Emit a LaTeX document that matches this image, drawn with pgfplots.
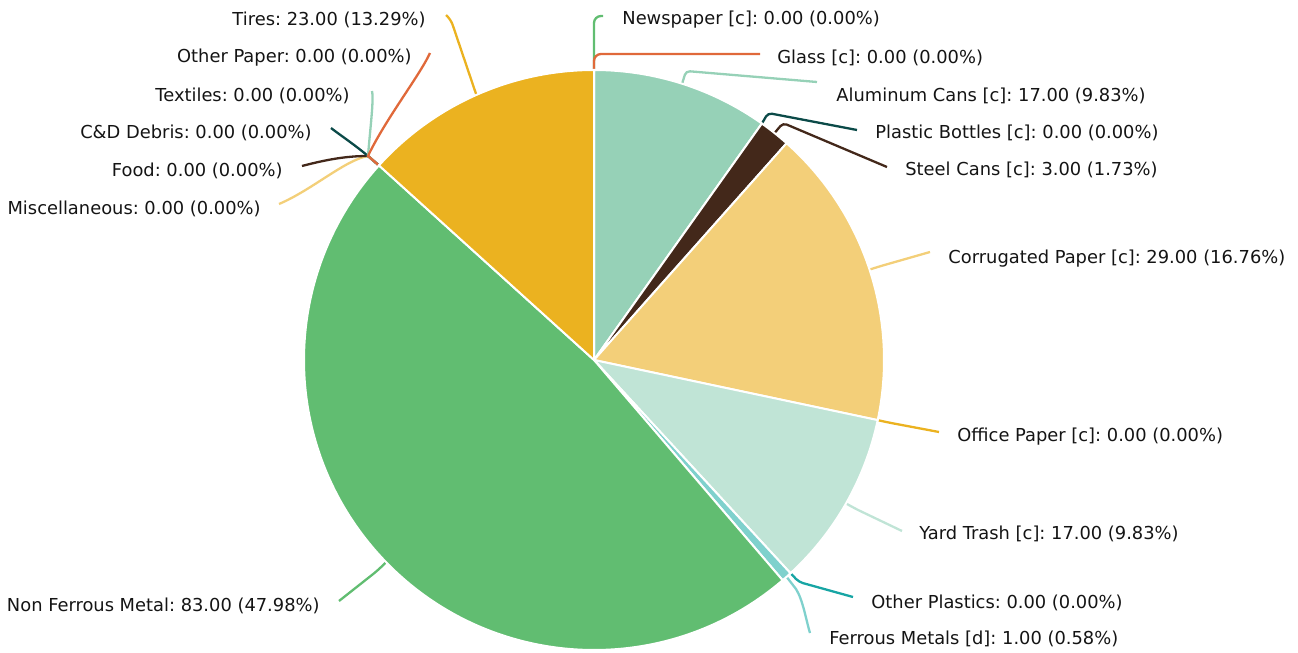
\documentclass[border=0pt]{standalone}
\usepackage{pgfplots}
\pgfplotsset{compat=1.18}
\usepackage{fontspec}
\setmainfont{DejaVu Sans}
\definecolor{cgreen}{HTML}{61BD71}
\definecolor{corange}{HTML}{E0693A}
\definecolor{clteal}{HTML}{96D1B7}
\definecolor{cdteal}{HTML}{0B4A48}
\definecolor{cbrown}{HTML}{43281A}
\definecolor{cyellow}{HTML}{F3CF79}
\definecolor{cgold}{HTML}{EBB220}
\definecolor{cmint}{HTML}{C0E4D6}
\definecolor{cteal}{HTML}{17A5A4}
\definecolor{caqua}{HTML}{7FD1CD}
\definecolor{ctext}{HTML}{141414}
% slice: #1 cumulative start value, #2 value, #3 colour (total 173)
\newcommand{\slice}[3]{%
  \fill[#3, draw=white, line width=1pt] (axis cs:594,360) -- ++({90-#1/173*360}:145pt)
    arc[start angle={90-#1/173*360}, end angle={90-(#1+#2)/173*360}, radius=145pt] -- cycle;}
\newcommand{\lblL}[3]{\node[anchor=west, inner sep=0pt, text=ctext, yshift=-1pt] at (axis cs:#1,#2) {#3};}
\newcommand{\lblR}[3]{\node[anchor=east, inner sep=0pt, text=ctext, yshift=-1pt] at (axis cs:#1,#2) {#3};}
\begin{document}
\frenchspacing
\fontsize{8.93pt}{10.7pt}\selectfont
\begin{tikzpicture}
\begin{axis}[scale only axis, width=649pt, height=326.5pt,
  xmin=0, xmax=1298, ymin=0, ymax=653, y dir=reverse,
  hide axis, clip=false]
% connectors
\begin{scope}[line width=1.15pt, rounded corners=3.5pt]
\draw[cgreen] (axis cs:594,360) ++(90:145pt) -- (axis cs:594,16) -- (axis cs:603,16);
\draw[corange] (axis cs:594,360) ++(90:145pt) -- (axis cs:594,54) -- (axis cs:760,54);
\draw[clteal, rounded corners=2pt] (axis cs:594,360) ++(72.31:145pt) -- (axis cs:686,71) -- (axis cs:817,82);
\draw[cdteal, rounded corners=2pt] (axis cs:594,360) ++(54.62:145pt) -- (axis cs:768,113) -- (axis cs:857,130);
\draw[cbrown, rounded corners=2pt] (axis cs:594,360) ++(51.50:145pt) -- (axis cs:783,123) -- (axis cs:887,167);
\draw[cyellow, rounded corners=2pt] (axis cs:594,360) ++(18.17:145pt) -- (axis cs:881,266) -- (axis cs:930,252);
\draw[cgold, rounded corners=2pt] (axis cs:594,360) ++(-11.97:145pt) -- (axis cs:889,422.6) -- (axis cs:939,432);
\draw[cmint, rounded corners=2pt] (axis cs:594,360) ++(-29.65:145pt) -- (axis cs:856,509) -- (axis cs:902,531);
\draw[cteal, rounded corners=2pt] (axis cs:594,360) ++(-47.34:145pt) -- (axis cs:799,582) -- (axis cs:853,597);
\draw[caqua, sharp corners] (axis cs:594,360) ++(-48.39:145pt) -- (axis cs:796,589) .. controls (axis cs:803,600) and (axis cs:806,620) .. (axis cs:810,633);
\draw[cgreen, rounded corners=2pt] (axis cs:594,360) ++(-135.78:145pt) -- (axis cs:376.6,571.3) -- (axis cs:339,601);
\draw[cyellow, sharp corners] (axis cs:594,360) ++(137.86:145pt) -- (axis cs:368,156) .. controls (axis cs:345,160) and (axis cs:312,190) .. (axis cs:279,204);
\draw[cbrown, sharp corners] (axis cs:594,360) ++(137.86:145pt) -- (axis cs:368,156) .. controls (axis cs:345,156) and (axis cs:325,160) .. (axis cs:302,166);
\draw[cdteal, sharp corners] (axis cs:594,360) ++(137.86:145pt) -- (axis cs:368,156) .. controls (axis cs:355,145) and (axis cs:340,135) .. (axis cs:331,128);
\draw[clteal, sharp corners] (axis cs:594,360) ++(137.86:145pt) -- (axis cs:368,156) .. controls (axis cs:370,130) and (axis cs:374,100) .. (axis cs:372,91);
\draw[corange, sharp corners] (axis cs:594,360) ++(137.86:145pt) -- (axis cs:368,156) .. controls (axis cs:385,120) and (axis cs:420,75) .. (axis cs:430,53);
\draw[cgold, rounded corners=2.5pt] (axis cs:594,360) ++(113.93:145pt) -- (axis cs:451,20) -- (axis cs:446,15);
\end{scope}
% slices (cumulative start, value)
\slice{0}{17}{clteal}
\slice{17}{3}{cbrown}
\slice{20}{29}{cyellow}
\slice{49}{17}{cmint}
\slice{66}{1}{caqua}
\slice{67}{83}{cgreen}
\slice{150}{23}{cgold}
% labels
\lblL{622}{18}{Newspaper [c]: 0.00 (0.00\%)}
\lblL{777}{56}{Glass [c]: 0.00 (0.00\%)}
\lblL{836}{94}{Aluminum Cans [c]: 17.00 (9.83\%)}
\lblL{875}{131}{Plastic Bottles [c]: 0.00 (0.00\%)}
\lblL{905}{168}{Steel Cans [c]: 3.00 (1.73\%)}
\lblL{948}{257}{Corrugated Paper [c]: 29.00 (16.76\%)}
\lblL{957}{435}{Office Paper [c]: 0.00 (0.00\%)}
\lblL{919}{532}{Yard Trash [c]: 17.00 (9.83\%)}
\lblL{871}{601}{Other Plastics: 0.00 (0.00\%)}
\lblL{829}{637}{Ferrous Metals [d]: 1.00 (0.58\%)}
\lblR{320}{604}{Non Ferrous Metal: 83.00 (47.98\%)}
\lblR{261}{207}{Miscellaneous: 0.00 (0.00\%)}
\lblR{283}{169}{Food: 0.00 (0.00\%)}
\lblR{312}{131}{C\&D Debris: 0.00 (0.00\%)}
\lblR{350}{94}{Textiles: 0.00 (0.00\%)}
\lblR{412}{56}{Other Paper: 0.00 (0.00\%)}
\lblR{426}{18}{Tires: 23.00 (13.29\%)}
\end{axis}
\pgfresetboundingbox
\path (0,0) rectangle (649pt,326.5pt);
\end{tikzpicture}
\end{document}
